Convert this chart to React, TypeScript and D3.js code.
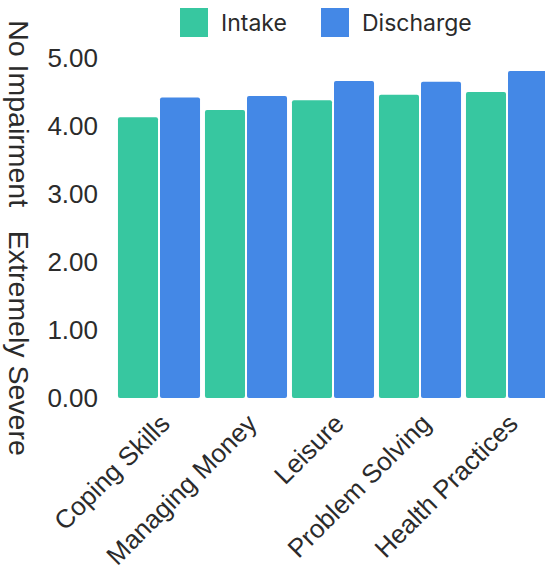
import React from "react";
import * as d3 from "d3";

const categories = ["Coping Skills", "Managing Money", "Leisure", "Problem Solving", "Health Practices"];
const seriesNames = ["Intake", "Discharge"];
const intake = [4.13, 4.235, 4.38, 4.46, 4.5];
const discharge = [4.42, 4.44, 4.66, 4.65, 4.81];
const yTicks = [0, 1, 2, 3, 4, 5];
const colors = ["#37C7A0", "#4488E6"];
const yTitle = "No Impairment   Extremely Severe";

export default function App() {
  const W = 545, H = 567;
  const left = 115.5, right = 550.5, top = 58, bottom = 398;
  const x = d3.scaleBand<string>().domain(categories).range([left, right]).paddingInner(0).paddingOuter(0);
  const inner = d3.scaleBand<string>().domain(seriesNames).range([0, x.bandwidth()]).paddingOuter(0.035).paddingInner(0);
  const y = d3.scaleLinear().domain([0, 5]).range([bottom, top]);
  const series = [intake, discharge];
  const axisFont = "'Liberation Sans', Arial, sans-serif";
  const legendFont = "Inter, 'Noto Sans', sans-serif";
  const textColor = "#2b2b2b";
  return (
    <svg width={W} height={H} style={{ position: "absolute", left: 0, top: 0 }}>
      <rect width={W} height={H} fill="#fff" />
      {/* legend */}
      {seriesNames.map((s, i) => {
        const lx = i === 0 ? 180 : 321;
        return (
          <g key={s}>
            <rect x={lx} y={8} width={28} height={29} fill={colors[i]} />
            <text x={lx + 41} y={30.5} fontFamily={legendFont} fontSize={23} fill={textColor}>{s}</text>
          </g>
        );
      })}
      {/* y axis title */}
      <text
        transform={`translate(19, 238) rotate(90)`}
        textAnchor="middle"
        dominantBaseline="central"
        fontFamily={axisFont}
        fontSize={28.5}
        fill={textColor}
        style={{ whiteSpace: "pre" }}
        xmlSpace="preserve"
      >
        {yTitle}
      </text>
      {/* y ticks */}
      {yTicks.map((t) => (
        <text key={t} x={98} y={y(t)} textAnchor="end" dominantBaseline="central" fontFamily={axisFont} fontSize={26} fill={textColor}>
          {t.toFixed(2)}
        </text>
      ))}
      {/* bars */}
      {categories.map((c, ci) => (
        <g key={c}>
          {seriesNames.map((s, si) => {
            const bx = (x(c) as number) + (inner(s) as number);
            const bw = inner.bandwidth();
            const v = series[si][ci];
            return (
              <rect
                key={s}
                x={bx + 1}
                y={y(v)}
                width={bw - 2}
                height={bottom - y(v)}
                rx={2}
                fill={colors[si]}
              />
            );
          })}
        </g>
      ))}
      {/* x labels */}
      {categories.map((c) => {
        const cx = (x(c) as number) + x.bandwidth() / 2;
        return (
          <text
            key={c}
            transform={`translate(${cx + 6}, 419) rotate(-45)`}
            textAnchor="end"
            dominantBaseline="central"
            fontFamily={axisFont}
            fontSize={26}
            fill={textColor}
          >
            {c}
          </text>
        );
      })}
    </svg>
  );
}
